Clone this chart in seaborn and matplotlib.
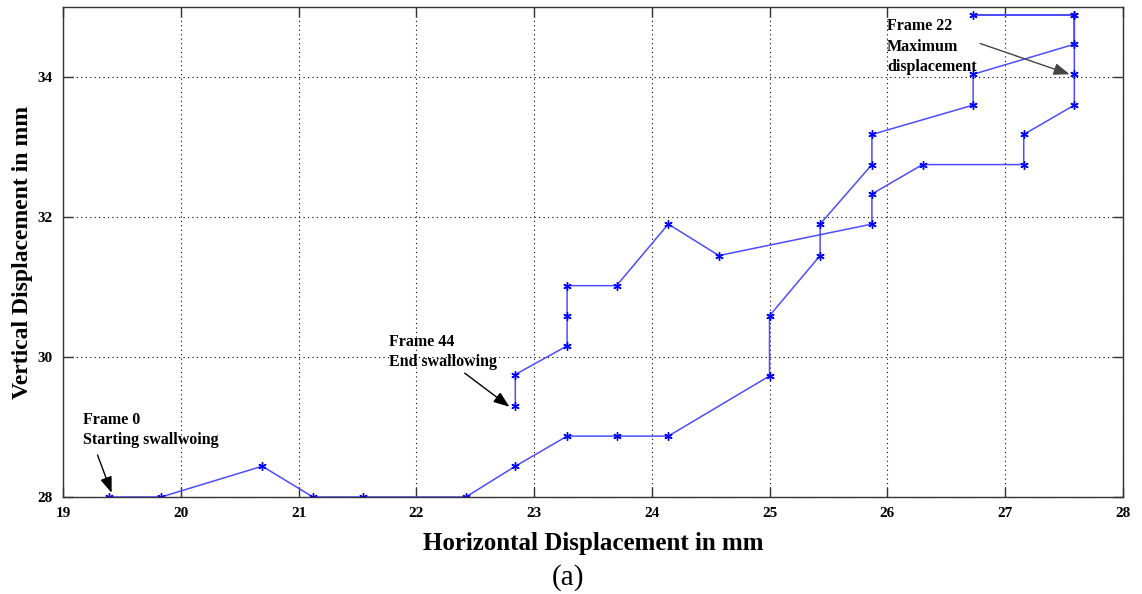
import matplotlib
matplotlib.use("Agg")
import matplotlib.pyplot as plt
import seaborn as sns
import pandas as pd

# Data (trajectory, in frame order)
horizontal_mm = [19.39, 19.83, 20.69, 21.12, 21.55, 22.42, 22.84, 23.28, 23.70, 24.14,
                 25.00, 25.00, 25.43, 25.43, 25.87, 25.87, 26.73, 26.73, 27.59, 27.59,
                 26.73, 27.59, 27.59, 27.59, 27.16, 27.16, 26.30, 25.87, 25.87, 24.57,
                 24.14, 23.70, 23.28, 23.28, 23.28, 22.84, 22.84]
vertical_mm = [28.00, 28.00, 28.44, 28.00, 28.00, 28.00, 28.44, 28.87, 28.87, 28.87,
               29.73, 30.59, 31.45, 31.90, 32.75, 33.18, 33.60, 34.04, 34.47, 34.89,
               34.89, 34.89, 34.04, 33.60, 33.18, 32.75, 32.75, 32.33, 31.90, 31.45,
               31.90, 31.02, 31.02, 30.59, 30.16, 29.75, 29.30]
x_ticks = [19, 20, 21, 22, 23, 24, 25, 26, 27, 28]
y_ticks = [28, 30, 32, 34]

ann_texts = ["Frame 0\nStarting swallwoing", "Frame 44\nEnd swallowing",
             "Frame 22\nMaximum\ndisplacement"]
ann_points = [(19.41, 28.06), (22.79, 29.29), (27.55, 34.04)]
ann_tails = [(19.29, 28.60), (22.41, 29.77), (26.79, 34.48)]
ann_textpos = [(19.17, 29.22), (21.77, 30.33), (26.00, 34.84)]

sns.set_theme(style="white")
plt.rcParams['font.family'] = ['Liberation Serif', 'DejaVu Serif']
plt.rcParams['mathtext.fontset'] = 'stix'
plt.rcParams['text.color'] = 'black'
plt.rcParams['axes.labelcolor'] = 'black'
plt.rcParams['xtick.color'] = 'black'
plt.rcParams['ytick.color'] = 'black'

df = pd.DataFrame({"h": horizontal_mm, "v": vertical_mm})

fig = plt.figure(figsize=(11.42, 5.94), dpi=100)
ax = fig.add_axes([0.0555, 0.1633, 0.9275, 0.8247])

sns.lineplot(data=df, x="h", y="v", sort=False, estimator=None, ax=ax,
             color=(0.3, 0.3, 1.0), linewidth=1.1,
             marker=(6, 2, 0), markersize=6, markeredgecolor="#0000ff",
             markerfacecolor="#0000ff", markeredgewidth=1.0)

ax.set_xlim(19, 28)
ax.set_ylim(28, 35)
ax.set_xticks(x_ticks)
ax.set_yticks(y_ticks)
ax.set_xticklabels([str(t) for t in x_ticks], fontsize=11, fontweight='bold')
ax.set_yticklabels([str(t) for t in y_ticks], fontsize=11, fontweight='bold')
ax.tick_params(axis='both', direction='in', length=7, width=1, color='#333333',
               labelcolor='black', top=True, right=True, bottom=True, left=True)
ax.tick_params(axis='x', pad=7)
ax.tick_params(axis='y', pad=8)

ax.grid(True, color='black', linestyle=(0, (1, 3)), linewidth=0.8)
for s in ax.spines.values():
    s.set_visible(True)
    s.set_color('#333333')
    s.set_linewidth(1.0)

ax.set_xlabel("Horizontal Displacement in mm", fontsize=18, fontweight='bold', labelpad=9,
              color='black')
ax.set_ylabel("Vertical Displacement in mm", fontsize=17, fontweight='bold', labelpad=3,
              color='black')

# annotations
arrow_colors = ['black', 'black', '#444444']
for txt, pt, tail, tp, ac in zip(ann_texts, ann_points, ann_tails, ann_textpos, arrow_colors):
    ax.annotate("", xy=pt, xytext=tail,
                arrowprops=dict(arrowstyle='-|>,head_length=0.8,head_width=0.3',
                                color=ac, lw=1.0, shrinkA=0, shrinkB=0))
    ax.text(tp[0], tp[1], txt, fontsize=11.5, fontweight='bold', ha='left', va='top',
            linespacing=1.35, color='black')

fig.text(0.497, 0.028, "(a)", fontsize=21, ha='center', va='center', color='black')

fig.savefig("out.png", dpi=100)
